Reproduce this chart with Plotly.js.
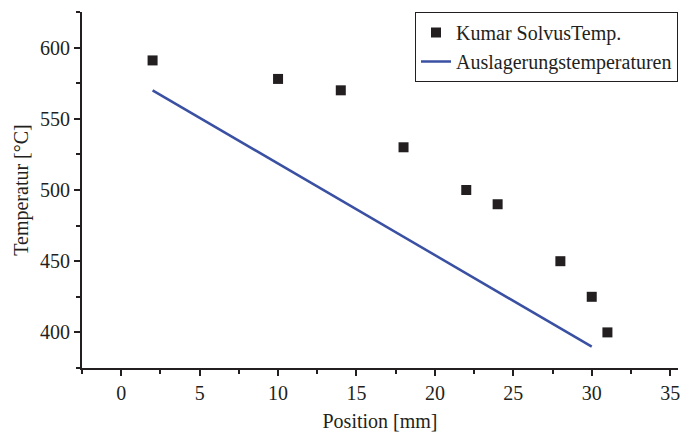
<!DOCTYPE html>
<html>
<head>
<meta charset="utf-8">
<script src="https://cdn.plot.ly/plotly-3.0.1.min.js"></script>
<style>html,body{margin:0;padding:0;background:#fff;}#chart{width:682px;height:432px;}</style>
</head>
<body>
<div id="chart"></div>
<script>
const kumarX = [2, 10, 14, 18, 22, 24, 28, 30, 31];
const kumarY = [591, 578, 570, 530, 500, 490, 450, 425, 400];
const auslX = [2, 30];
const auslY = [570, 390];
const xTicks = [0, 5, 10, 15, 20, 25, 30, 35];
const yTicks = [400, 450, 500, 550, 600];

const font = {family: '"Liberation Serif", "Times New Roman", serif', color: '#231f20'};
const fs = 20;

const traces = [
  {x: kumarX, y: kumarY, type: 'scatter', mode: 'markers', name: 'Kumar SolvusTemp.',
   marker: {symbol: 'square', size: 10, color: '#231f20'}},
  {x: auslX, y: auslY, type: 'scatter', mode: 'lines', name: 'Auslagerungstemperaturen',
   line: {color: '#3a50a2', width: 2.5}}
];

const axisCommon = {
  showgrid: false, zeroline: false, showline: true, linecolor: '#231f20', linewidth: 2,
  ticks: 'outside', ticklen: 6, tickwidth: 2, tickcolor: '#231f20',
  tickfont: Object.assign({size: fs}, font)
};

const layout = {
  width: 682, height: 432,
  margin: {l: 82, r: 4, t: 12, b: 64},
  paper_bgcolor: '#fff', plot_bgcolor: '#fff',
  font: font,
  showlegend: true,
  legend: {x: 1.0, y: 1.0, xanchor: 'right', yanchor: 'top',
    bordercolor: '#231f20', borderwidth: 1, bgcolor: '#fff',
    font: Object.assign({size: 20}, font), tracegroupgap: 0, itemwidth: 30},
  xaxis: Object.assign({}, axisCommon, {
    range: [-2.5, 35.5], tickvals: xTicks, ticktext: xTicks.map(String),
    minor: {dtick: 2.5, tick0: 0, ticks: 'outside', ticklen: 4, tickwidth: 2, tickcolor: '#231f20', showgrid: false},
    title: {text: 'Position [mm]', font: Object.assign({size: fs}, font), standoff: 14}
  }),
  yaxis: Object.assign({}, axisCommon, {
    range: [375, 625], tickvals: yTicks, ticktext: yTicks.map(String),
    minor: {dtick: 25, tick0: 0, ticks: 'outside', ticklen: 4, tickwidth: 2, tickcolor: '#231f20', showgrid: false},
    title: {text: 'Temperatur [°C]', font: Object.assign({size: fs}, font), standoff: 6}
  })
};

Plotly.newPlot('chart', traces, layout, {displayModeBar: false, staticPlot: true});
</script>
</body>
</html>
